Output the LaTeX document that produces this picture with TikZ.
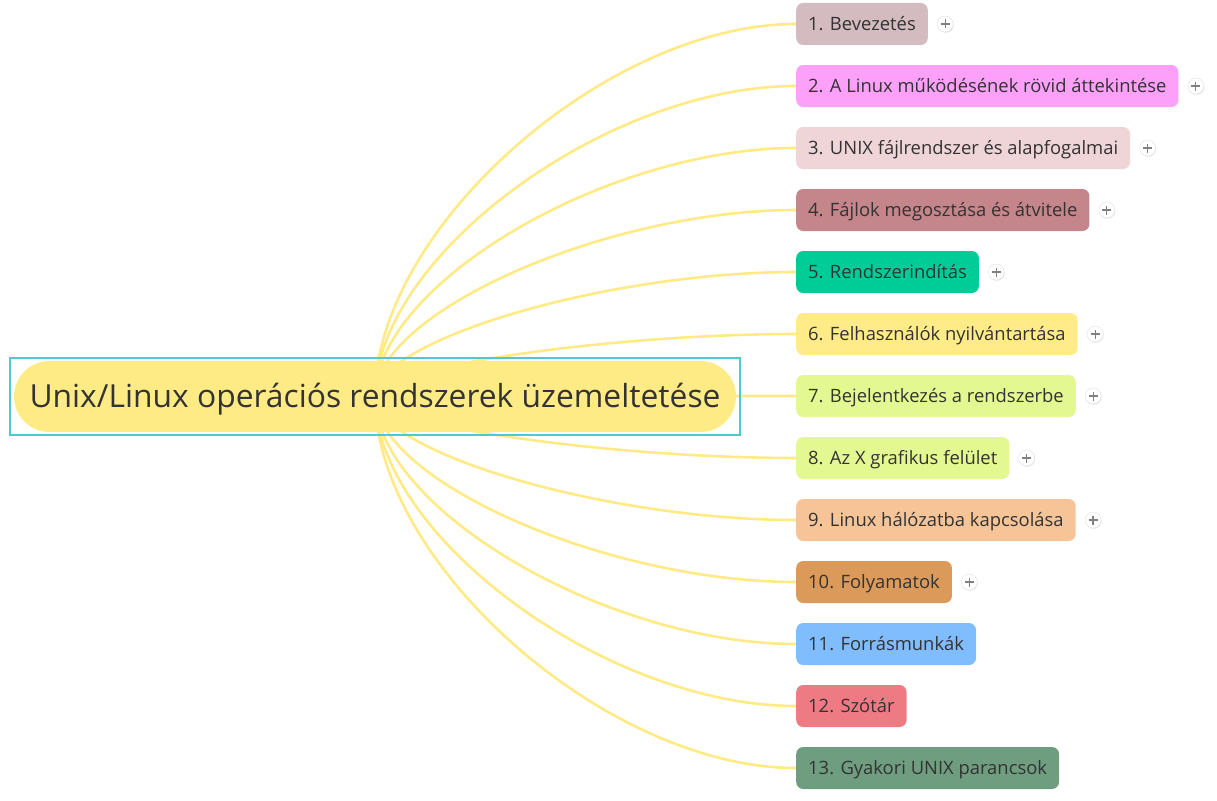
\documentclass[tikz,border=0pt]{standalone}
\usepackage{fontspec}
\setmainfont{Open Sans}
\usetikzlibrary{positioning,calc,fit,shadows,backgrounds}
\definecolor{ink}{HTML}{333333}
\definecolor{sun}{HTML}{FFEB85}
\definecolor{wire}{HTML}{FFEA85}
\definecolor{frame}{HTML}{4FC9CF}
\definecolor{col1}{HTML}{D4BBBF}
\definecolor{col2}{HTML}{FCA0FA}
\definecolor{col3}{HTML}{EFD4D8}
\definecolor{col4}{HTML}{C4868B}
\definecolor{col5}{HTML}{00CC98}
\definecolor{col6}{HTML}{FFEB87}
\definecolor{col7}{HTML}{E4F892}
\definecolor{col9}{HTML}{F6C497}
\definecolor{col10}{HTML}{DB9A5A}
\definecolor{col11}{HTML}{80BDFF}
\definecolor{col12}{HTML}{EE7A84}
\definecolor{col13}{HTML}{6E9E7F}
\begin{document}
\begin{tikzpicture}
    [
    x=1pt, y=-1pt,
    central/.style={rectangle,fill=sun,rounded corners=35.5pt,minimum width=722pt,minimum height=71pt,inner sep=0pt,text=ink,font=\fontsize{31.8}{36}\selectfont,text height=25pt,text depth=2.3pt},
    selected/.style={rectangle,draw=frame,line width=1.8pt,inner xsep=3.5pt,inner ysep=3pt},
    topic/.style={rectangle,rounded corners=7pt,anchor=west,minimum height=42pt,inner xsep=12pt,text=ink,font=\fontsize{18.4}{20}\selectfont,text height=14.5pt,text depth=1.4pt},
    expander/.style={circle,draw=black!12,fill=white,minimum size=16pt,inner sep=0pt,
      drop shadow={shadow xshift=0.6pt,shadow yshift=-0.9pt,opacity=0.18},
      path picture={\draw [black!50,line width=1.2pt] (path picture bounding box.center) +(-4.5pt,0pt) -- +(4.5pt,0pt) (path picture bounding box.center) +(0pt,-4.5pt) -- +(0pt,4.5pt);}},
    branch/.style={draw=wire,line width=2.6pt,
      to path={.. controls ($(\tikztostart)!0.45!(\tikztostart |- \tikztotarget)$) and ($(\tikztotarget)!0.45!(\tikztostart |- \tikztotarget)$) .. (\tikztotarget)}}
    ]
    \useasboundingbox (0,0) rectangle (1217,800);
    \node (root) at (375,396.5) [central] {Unix/Linux operációs rendszerek üzemeltetése};
    \node (sel) [selected, fit=(root)] {};
    \node (c1) at (796,24) [topic, fill=col1] {1. Bevezetés};
    \node (c2) at (796,86) [topic, fill=col2] {2. A Linux működésének rövid áttekintése};
    \node (c3) at (796,148) [topic, fill=col3] {3. UNIX fájlrendszer és alapfogalmai};
    \node (c4) at (796,210) [topic, fill=col4] {4. Fájlok megosztása és átvitele};
    \node (c5) at (796,272) [topic, fill=col5] {5. Rendszerindítás};
    \node (c6) at (796,334) [topic, fill=col6] {6. Felhasználók nyilvántartása};
    \node (c7) at (796,396) [topic, fill=col7] {7. Bejelentkezés a rendszerbe};
    \node (c8) at (796,458) [topic, fill=col7] {8. Az X grafikus felület};
    \node (c9) at (796,520) [topic, fill=col9] {9. Linux hálózatba kapcsolása};
    \node (c10) at (796,582) [topic, fill=col10] {10. Folyamatok};
    \node (c11) at (796,644) [topic, fill=col11] {11. Forrásmunkák};
    \node (c12) at (796,706) [topic, fill=col12] {12. Szótár};
    \node (c13) at (796,768) [topic, fill=col13] {13. Gyakori UNIX parancsok};
    \node (x1) [expander, right=9pt of c1] {};
    \node (x2) [expander, right=9pt of c2] {};
    \node (x3) [expander, right=9pt of c3] {};
    \node (x4) [expander, right=9pt of c4] {};
    \node (x5) [expander, right=9pt of c5] {};
    \node (x6) [expander, right=9pt of c6] {};
    \node (x7) [expander, right=9pt of c7] {};
    \node (x8) [expander, right=9pt of c8] {};
    \node (x9) [expander, right=9pt of c9] {};
    \node (x10) [expander, right=9pt of c10] {};
    \begin{scope}[on background layer]
    \draw [branch] (root.center) to (c1.west);
    \draw [branch] (root.center) to (c2.west);
    \draw [branch] (root.center) to (c3.west);
    \draw [branch] (root.center) to (c4.west);
    \draw [branch] (root.center) to (c5.west);
    \draw [branch] (root.center) to (c6.west);
    \draw [branch] (root.center) to (c7.west);
    \draw [branch] (root.center) to (c8.west);
    \draw [branch] (root.center) to (c9.west);
    \draw [branch] (root.center) to (c10.west);
    \draw [branch] (root.center) to (c11.west);
    \draw [branch] (root.center) to (c12.west);
    \draw [branch] (root.center) to (c13.west);
    \end{scope}
  \end{tikzpicture}
\end{document}
